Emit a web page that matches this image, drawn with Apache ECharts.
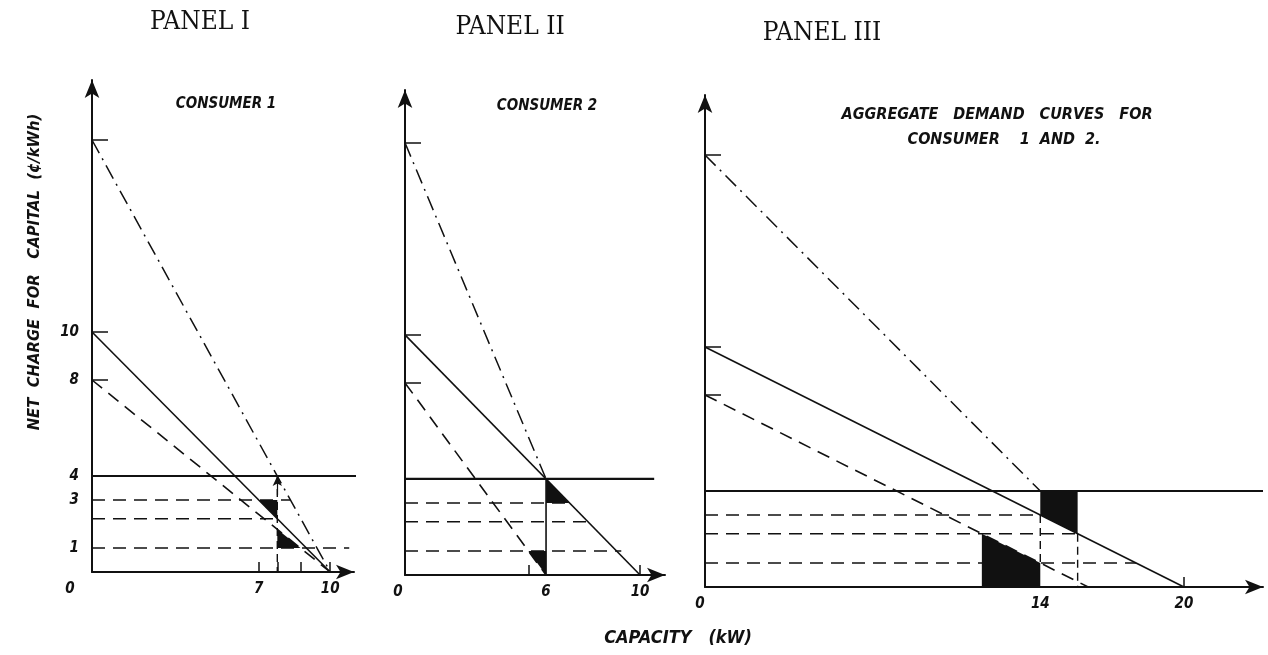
<!DOCTYPE html>
<html>
<head>
<meta charset="utf-8">
<script src="https://cdn.jsdelivr.net/npm/echarts@6/dist/echarts.min.js"></script>
<style>
  html, body { margin: 0; padding: 0; background: #fff; }
  #chart { width: 1268px; height: 655px; }
</style>
</head>
<body>
<div id="chart"></div>
<script>
// ---------- Panel I : consumer 1 (price ¢/kWh against capacity kW) ----------
const c1PeakDemand    = [[0, 18], [10, 0]];
const c1Demand        = [[0, 10], [10, 0]];
const c1OffDemand     = [[0, 8], [10, 0]];
const c1CapitalCharge = [[0, 4], [11.1, 4]];
const c1PriceHigh     = [[0, 3], [8.33, 3]];
const c1PriceMid      = [[0, 2.22], [7.78, 2.22]];
const c1PriceLow      = [[0, 1], [10.8, 1]];
const c1Capacity      = [[7.78, 4], [7.78, 0]];
const c1CapacityArrow = [[7.78, 3.2], [7.78, 4]];
const c1Losses        = [
  [[7, 3], [7.78, 3], [7.78, 2.22]],
  [[7.78, 1.78], [7.78, 1], [8.75, 1]]
];
const c1XTicks  = [7, 7.78, 8.75, 10];
const c1XLabels = [0, 7, 10];
const c1YTicks  = [18, 10, 8];
const c1YLabels = [10, 8, 4, 3, 1];

// ---------- Panel II : consumer 2 ----------
const c2PeakDemand    = [[0, 18], [6, 4]];
const c2Demand        = [[0, 10], [10, 0]];
const c2OffDemand     = [[0, 8], [6, 0]];
const c2CapitalCharge = [[0, 4], [10.6, 4]];
const c2PriceHigh     = [[0, 3], [7, 3]];
const c2PriceMid      = [[0, 2.22], [7.78, 2.22]];
const c2PriceLow      = [[0, 1], [9.2, 1]];
const c2Capacity      = [[6, 4], [6, 0]];
const c2Losses        = [
  [[6, 4], [6, 3], [7, 3]],
  [[5.25, 1], [6, 1], [6, 0]]
];
const c2XTicks  = [5.25, 10];
const c2XLabels = [0, 6, 10];
const c2YTicks  = [18, 10, 8];

// ---------- Panel III : aggregate of consumers 1 and 2 ----------
const aggPeakDemand    = [[0, 18], [14, 4]];
const aggDemand        = [[0, 10], [20, 0]];
const aggOffDemand     = [[0, 8], [16, 0]];
const aggCapitalCharge = [[0, 4], [23.3, 4]];
const aggPriceHigh     = [[0, 3], [14, 3]];
const aggPriceMid      = [[0, 2.22], [15.56, 2.22]];
const aggPriceLow      = [[0, 1], [18, 1]];
const aggCapacity      = [[14, 3], [14, 1]];
const aggCapacityMid   = [[15.56, 2.22], [15.56, 0]];
const aggLosses        = [
  [[14, 4], [15.56, 4], [15.56, 2.22], [14, 3]],
  [[11.56, 0], [11.56, 2.22], [14, 1], [14, 0]]
];
const aggXTicks  = [20];
const aggXLabels = [0, 14, 20];
const aggYTicks  = [18, 10, 8];

// ---------- styling ----------
const INK = '#111';
const HAND = '"DejaVu Sans Condensed", "DejaVu Sans", sans-serif';
const SERIF = '"DejaVu Serif Condensed", "DejaVu Serif", "Liberation Serif", serif';
const SOLID = { type: 'solid', width: 1.6 };
const HEAVY = { type: 'solid', width: 2.2 };
const DASH = { type: [13, 8], width: 1.6 };
const DASHDOT = { type: [15, 6, 2, 6], width: 1.5 };
const VDASH = { type: [8, 5], width: 1.4 };

function line(data, i, style) {
  return {
    type: 'line', xAxisIndex: i, yAxisIndex: i, data: data,
    symbol: 'none', silent: true, animation: false, z: 3,
    lineStyle: Object.assign({ color: INK }, style)
  };
}

// a short segment ending in an arrowhead
function arrow(seg, i) {
  return {
    type: 'line', xAxisIndex: i, yAxisIndex: i, data: [], silent: true, animation: false,
    markLine: {
      silent: true, animation: false, symbol: ['none', 'arrow'], symbolSize: [7, 10],
      label: { show: false },
      lineStyle: { color: INK, type: 'solid', width: 1.2 },
      data: [[{ coord: seg[0] }, { coord: seg[1] }]]
    }
  };
}

function blocks(polys, i) {
  return {
    type: 'custom', xAxisIndex: i, yAxisIndex: i, silent: true, animation: false, z: 4,
    data: polys.map(p => p[0]),
    renderItem: function (params, api) {
      return {
        type: 'polygon',
        shape: { points: polys[params.dataIndex].map(pt => api.coord(pt)) },
        style: { fill: INK }
      };
    }
  };
}

const labelFont = { color: INK, fontFamily: HAND, fontStyle: 'italic', fontWeight: 'bold', fontSize: 15 };

function xAxis(i, max, ticks, labels, zeroShift) {
  return {
    type: 'value', gridIndex: i, min: 0, max: max,
    splitLine: { show: false },
    axisLine: { show: true, onZero: false, symbol: ['none', 'arrow'], symbolSize: [11, 18],
                lineStyle: { color: INK, width: 2 } },
    axisTick: { show: true, inside: true, length: 10, customValues: ticks,
                lineStyle: { color: INK, width: 1.5 } },
    axisLabel: Object.assign({
      customValues: labels, margin: 10,
      formatter: v => (v === 0 ? '{o|0}' : String(v)),
      rich: { o: Object.assign({ padding: [0, zeroShift * 2, 0, 0] }, labelFont) }
    }, labelFont)
  };
}

function yAxis(i, max, ticks, labels) {
  return {
    type: 'value', gridIndex: i, min: 0, max: max,
    splitLine: { show: false },
    axisLine: { show: true, onZero: false, symbol: ['none', 'arrow'], symbolSize: [11, 18],
                lineStyle: { color: INK, width: 2 } },
    axisTick: { show: true, inside: true, length: 16, customValues: ticks,
                lineStyle: { color: INK, width: 1.5 } },
    axisLabel: Object.assign({ show: labels.length > 0, customValues: labels, margin: 13 }, labelFont)
  };
}

function text(str, x, y, font, rot) {
  return {
    type: 'text', x: x, y: y, rotation: rot || 0, silent: true,
    style: { text: str, font: font, fill: INK,
             align: 'center', verticalAlign: 'middle',
             textAlign: 'center', textVerticalAlign: 'middle' }
  };
}

const chart = echarts.init(document.getElementById('chart'), null, { renderer: 'canvas' });

chart.setOption({
  backgroundColor: '#fff',
  animation: false,
  grid: [
    { left: 92, right: 914, top: 80, bottom: 83, outerBoundsMode: 'none' },
    { left: 405, right: 603, top: 90, bottom: 80, outerBoundsMode: 'none' },
    { left: 705, right: 5, top: 95, bottom: 68, outerBoundsMode: 'none' }
  ],
  xAxis: [
    xAxis(0, 11, c1XTicks, c1XLabels, 22),
    xAxis(1, 11.06, c2XTicks, c2XLabels, 7),
    xAxis(2, 23.3, aggXTicks, aggXLabels, 5)
  ],
  yAxis: [
    yAxis(0, 20.5, c1YTicks, c1YLabels),
    yAxis(1, 20.2, c2YTicks, []),
    yAxis(2, 20.5, aggYTicks, [])
  ],
  series: [
    // consumer 1
    line(c1PeakDemand, 0, DASHDOT),
    line(c1Demand, 0, SOLID),
    line(c1OffDemand, 0, DASH),
    line(c1CapitalCharge, 0, HEAVY),
    line(c1PriceHigh, 0, DASH),
    line(c1PriceMid, 0, DASH),
    line(c1PriceLow, 0, DASH),
    line(c1Capacity, 0, VDASH),
    arrow(c1CapacityArrow, 0),
    blocks(c1Losses, 0),
    // consumer 2
    line(c2PeakDemand, 1, DASHDOT),
    line(c2Demand, 1, SOLID),
    line(c2OffDemand, 1, DASH),
    line(c2CapitalCharge, 1, HEAVY),
    line(c2PriceHigh, 1, DASH),
    line(c2PriceMid, 1, DASH),
    line(c2PriceLow, 1, DASH),
    line(c2Capacity, 1, SOLID),
    blocks(c2Losses, 1),
    // aggregate
    line(aggPeakDemand, 2, DASHDOT),
    line(aggDemand, 2, SOLID),
    line(aggOffDemand, 2, DASH),
    line(aggCapitalCharge, 2, HEAVY),
    line(aggPriceHigh, 2, DASH),
    line(aggPriceMid, 2, DASH),
    line(aggPriceLow, 2, DASH),
    line(aggCapacity, 2, VDASH),
    line(aggCapacityMid, 2, VDASH),
    blocks(aggLosses, 2)
  ],
  graphic: [
    text('PANEL I', 200, 22, '26px ' + SERIF),
    text('PANEL II', 510, 27, '26px ' + SERIF),
    text('PANEL III', 822, 33, '26px ' + SERIF),
    text('CONSUMER 1', 226, 104, 'italic bold 15px ' + HAND),
    text('CONSUMER 2', 547, 106, 'italic bold 15px ' + HAND),
    text('AGGREGATE   DEMAND   CURVES   FOR', 997, 115, 'italic bold 16px ' + HAND),
    text('CONSUMER    1  AND  2.', 1004, 140, 'italic bold 16px ' + HAND),
    text('NET  CHARGE  FOR   CAPITAL  (¢/kWh)', 35, 272, 'italic bold 16.5px ' + HAND, Math.PI / 2),
    text('CAPACITY   (kW)', 678, 638, 'italic bold 18px ' + HAND)
  ]
});
</script>
</body>
</html>
